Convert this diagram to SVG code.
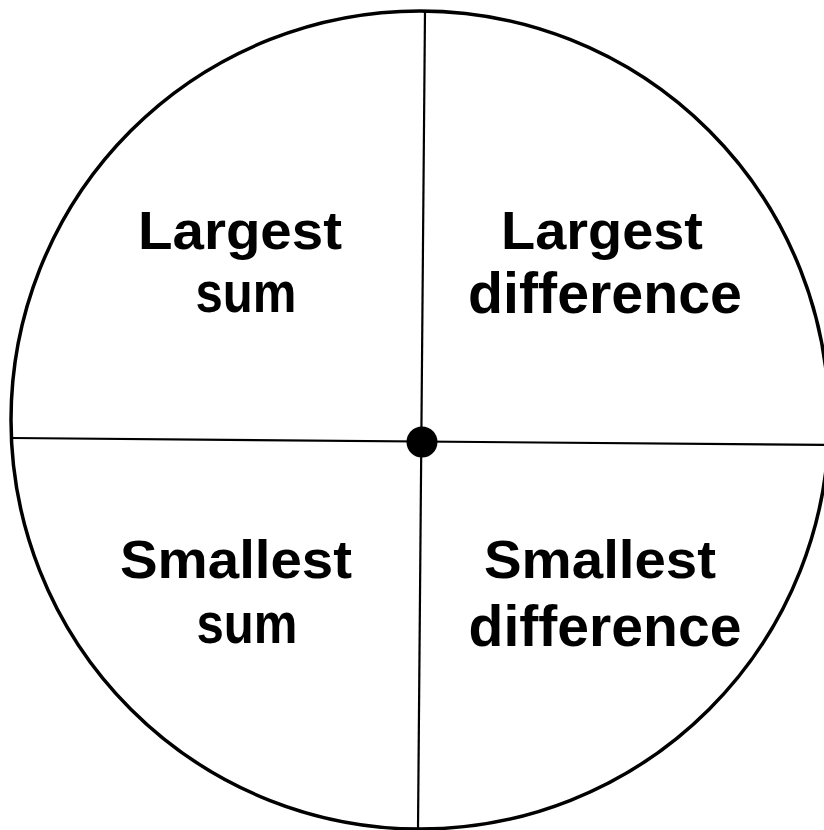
<svg xmlns="http://www.w3.org/2000/svg" width="824" height="830" viewBox="0 0 824 830">
<style>
.lbl{font-family:"Liberation Sans",Arial,sans-serif;font-weight:bold;font-size:54px;fill:#000;text-anchor:middle}
.lc{font-size:58px}
.div{stroke:#000;stroke-width:2.2;fill:none}
</style>
<rect width="824" height="830" fill="#fff"/>
<g id="wheel">
<circle cx="420" cy="420" r="409" fill="none" stroke="#000" stroke-width="3.5"/>
</g>
<g id="connectors">
<line class="div" x1="425" y1="11" x2="418" y2="829"/>
<line class="div" x1="12" y1="438" x2="829" y2="445"/>
</g>
<g id="center">
<circle cx="422" cy="442" r="15.5" fill="#000"/>
</g>
<g id="largest-sum">
<text class="lbl" x="240" y="249" textLength="204" lengthAdjust="spacingAndGlyphs">Largest</text>
<text class="lbl lc" x="246" y="312" textLength="101" lengthAdjust="spacingAndGlyphs">sum</text>
</g>
<g id="largest-difference">
<text class="lbl" x="602" y="249" textLength="202" lengthAdjust="spacingAndGlyphs">Largest</text>
<text class="lbl lc" x="605" y="313" textLength="274" lengthAdjust="spacingAndGlyphs">difference</text>
</g>
<g id="smallest-sum">
<text class="lbl" x="236" y="578" textLength="232" lengthAdjust="spacingAndGlyphs">Smallest</text>
<text class="lbl lc" x="247" y="643" textLength="101" lengthAdjust="spacingAndGlyphs">sum</text>
</g>
<g id="smallest-difference">
<text class="lbl" x="600" y="578" textLength="232" lengthAdjust="spacingAndGlyphs">Smallest</text>
<text class="lbl lc" x="605" y="646" textLength="273" lengthAdjust="spacingAndGlyphs">difference</text>
</g>
</svg>
